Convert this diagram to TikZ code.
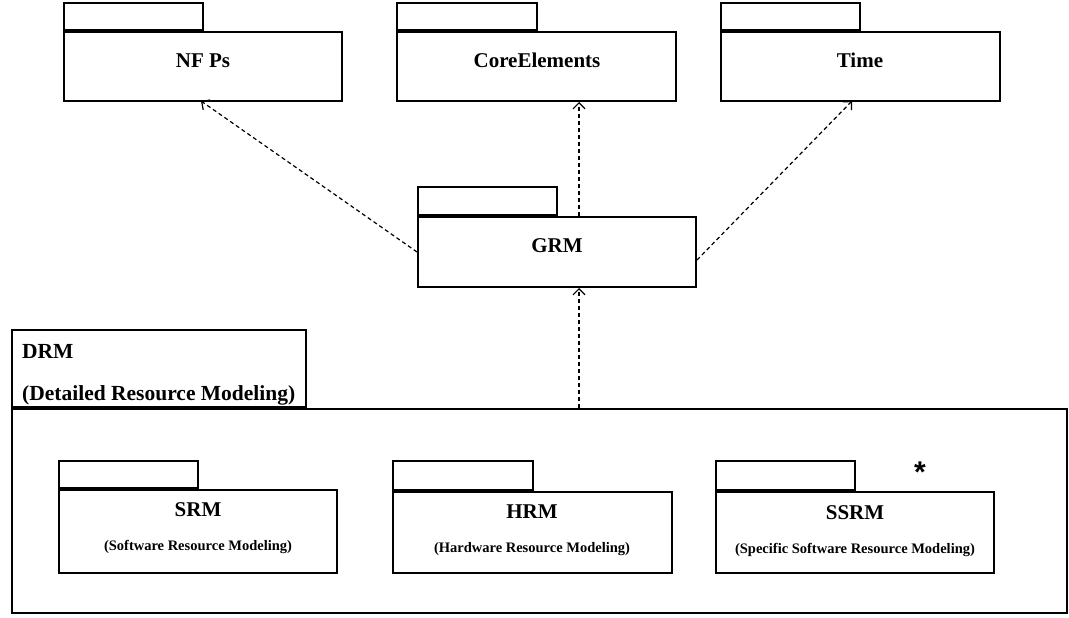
\documentclass[tikz,border=0pt]{standalone}
\usepackage{fontspec}
\setmainfont{Liberation Serif}
\newfontfamily\starfont{Liberation Sans}
\usetikzlibrary{arrows.meta}

\begin{document}
\begin{tikzpicture}[x=1pt,y=-1pt,
  pkgbody/.style={draw, line width=2pt, rectangle, inner sep=0pt},
  pkgtab/.style={draw, line width=2pt, rectangle, inner sep=0pt, anchor=south west},
  title/.style={font=\fontsize{21}{25}\selectfont\bfseries, anchor=base, inner sep=0pt},
  subtitle/.style={font=\fontsize{14.5}{17}\selectfont\bfseries, anchor=base, inner sep=0pt},
  drmtitle/.style={font=\fontsize{21.5}{26}\selectfont\bfseries, anchor=base west, inner sep=0pt},
  dep/.style={draw, line width=1.2pt, dash pattern=on 4pt off 3pt,
    -{Straight Barb[length=6pt,width=12pt,line width=1.2pt]}}]

\useasboundingbox (0,0) rectangle (1069,618);

% top row of packages
\node[pkgbody, minimum width=278pt, minimum height=69pt] (nfps) at (203,66.5) {};
\node[pkgtab, minimum width=139pt, minimum height=27pt] (nfpsTab) at (nfps.north west) {};
\node[title] (nfpsLbl) at (203,68) {NF Ps};

\node[pkgbody, minimum width=279pt, minimum height=69pt] (core) at (536.5,66.5) {};
\node[pkgtab, minimum width=140pt, minimum height=27pt] (coreTab) at (core.north west) {};
\node[title] (coreLbl) at (537,68) {CoreElements};

\node[pkgbody, minimum width=279pt, minimum height=69pt] (time) at (860.5,66.5) {};
\node[pkgtab, minimum width=139pt, minimum height=27pt] (timeTab) at (time.north west) {};
\node[title] (timeLbl) at (860,68) {Time};

% GRM
\node[pkgbody, minimum width=278pt, minimum height=70pt] (grm) at (557,252) {};
\node[pkgtab, minimum width=139pt, minimum height=28pt] (grmTab) at (grm.north west) {};
\node[title] (grmLbl) at (557,252) {GRM};

% DRM container
\node[pkgbody, minimum width=1055pt, minimum height=204pt] (drm) at (539.5,511) {};
\node[pkgtab, minimum width=294pt, minimum height=77pt] (drmTab) at (drm.north west) {};
\node[drmtitle] (drmLbl) at (22,358) {DRM};
\node[drmtitle] (drmSub) at (22,400) {(Detailed Resource Modeling)};

% nested packages
\node[pkgbody, minimum width=278pt, minimum height=83pt] (srm) at (198,531.5) {};
\node[pkgtab, minimum width=139pt, minimum height=27pt] (srmTab) at (srm.north west) {};
\node[title] (srmLbl) at (198,516) {SRM};
\node[subtitle] (srmSub) at (198,550) {(Software Resource Modeling)};

\node[pkgbody, minimum width=279pt, minimum height=81pt] (hrm) at (532.5,532.5) {};
\node[pkgtab, minimum width=140pt, minimum height=29pt] (hrmTab) at (hrm.north west) {};
\node[title] (hrmLbl) at (532,518) {HRM};
\node[subtitle] (hrmSub) at (532,552) {(Hardware Resource Modeling)};

\node[pkgbody, minimum width=278pt, minimum height=81pt] (ssrm) at (855,532.5) {};
\node[pkgtab, minimum width=139pt, minimum height=29pt] (ssrmTab) at (ssrm.north west) {};
\node[title] (ssrmLbl) at (855,519) {SSRM};
\node[subtitle] (ssrmSub) at (855,553) {(Specific Software Resource Modeling)};
\node[font=\fontsize{30}{30}\selectfont\bfseries\starfont, inner sep=0pt] (star) at (920,472) {*};

% dependencies
\draw[dep] (grm.west) -- ([xshift=138pt,yshift=1pt]nfps.south west);
\draw[dep] ([xshift=22pt]grm.north) -- ([xshift=22pt]grm.north |- core.south);
\draw[dep] ([yshift=-8pt]grm.east) -- ([xshift=132pt,yshift=1pt]time.south west);
\draw[dep] ([xshift=22pt]grm.south |- drm.north) -- ([xshift=22pt]grm.south);

\end{tikzpicture}
\end{document}
